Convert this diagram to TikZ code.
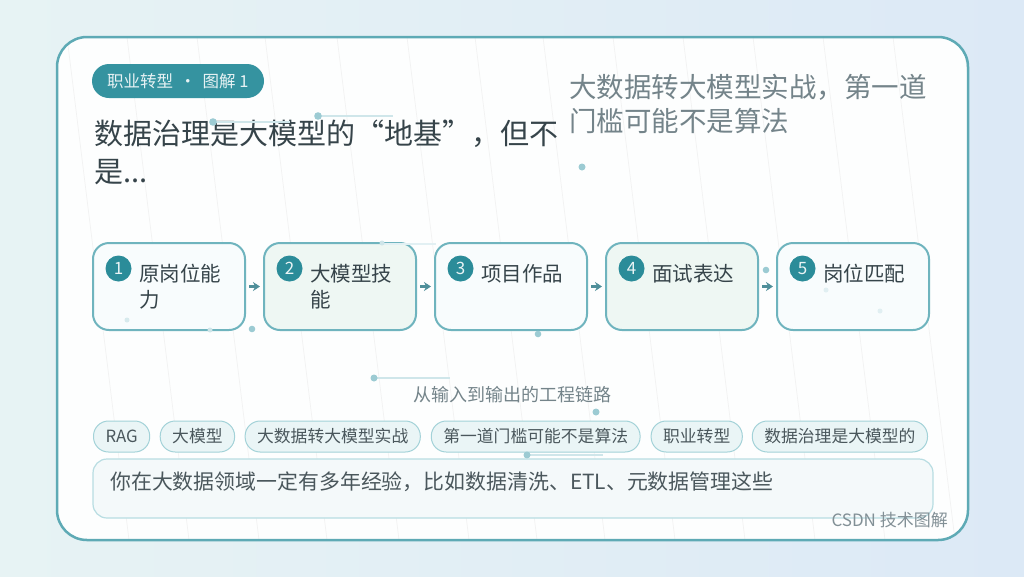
\documentclass[tikz,border=0pt]{standalone}
\usepackage{fontspec}
\setmainfont{Noto Sans CJK SC}
\usepackage{tikz}
\usetikzlibrary{arrows.meta}
\usetikzlibrary{calc}
\usetikzlibrary{positioning}
\usepackage{xcolor}
\definecolor{bgA}{HTML}{E7F3F4}
\definecolor{bgB}{HTML}{DCE9F6}
\definecolor{cardline}{HTML}{5EAAB5}
\definecolor{pillfill}{HTML}{3593A0}
\definecolor{numfill}{HTML}{2B8C99}
\definecolor{boxline}{HTML}{6FB4BE}
\definecolor{boxA}{HTML}{F8FCFD}
\definecolor{boxB}{HTML}{EEF7F3}
\definecolor{tagfill}{HTML}{EAF5F6}
\definecolor{tagline}{HTML}{A3D2D8}
\definecolor{notefill}{HTML}{F4F9FA}
\definecolor{noteline}{HTML}{B8DDE2}
\definecolor{dotc}{HTML}{9CCBD3}
\definecolor{decoc}{HTML}{CFE6EA}
\definecolor{darktxt}{HTML}{36444A}
\definecolor{greytxt}{HTML}{74848A}
\definecolor{arrowc}{HTML}{4F8F9A}

\begin{document}
\begin{tikzpicture}[x=1pt, y=-1pt]
        % ================= 样式 =================
        \tikzset{
            % 流程卡片
            flowbox/.style={rectangle, rounded corners=16pt, draw=boxline, line width=2pt, minimum width=152pt, minimum height=87pt, inner sep=0pt},
            % 编号圆点
            numdot/.style={circle, fill=numfill, minimum size=26pt, inner sep=0pt, text=white!90!numfill, font=\fontsize{17}{17}\selectfont},
            % 卡片文字
            flowtxt/.style={anchor=base west, inner sep=0pt, align=left, text=darktxt, font=\fontsize{20.5}{26}\selectfont},
            % 关键词标签
            tagpill/.style={rectangle, rounded corners=15pt, draw=tagline, line width=1pt, fill=tagfill, minimum height=31pt, inner xsep=12pt, inner ysep=0pt, text=darktxt!90, font=\fontsize{16.8}{17}\selectfont},
            % 流程箭头
            flowarrow/.style={-{Stealth[length=7pt, width=9pt]}, line width=2.2pt, arrowc, shorten <=3pt, shorten >=3pt},
            % 装饰
            decoline/.style={decoc, line width=1.2pt},
            hatchline/.style={black!5, line width=0.7pt}
        }

        % ================= 背景与卡片 =================
        \useasboundingbox (0,0) rectangle (1024,576);
        \shade[left color=bgA, right color=bgB] (0,0) rectangle (1024,576);
        \fill[white!70!boxA] [rounded corners=30pt] (57,37) rectangle (968,540);
        \begin{scope}
            \clip[rounded corners=30pt] (57,37) rectangle (968,540);
            \foreach \x in {67,127,197,265,337,407,475,543,613,683,753,823,893,963}
                \draw[hatchline] (\x,37) -- (\x+62,540);
        \end{scope}
        \draw[cardline, line width=2.5pt, rounded corners=30pt] (57,37) rectangle (968,540);

        % ================= 标题区 =================
        \node[rectangle, rounded corners=17pt, fill=pillfill, minimum width=172pt, minimum height=34pt, inner sep=0pt] (pill) at (178,81) {};
        \node[anchor=west, inner sep=0pt, text=white!88!pillfill, font=\fontsize{16.5}{17}\selectfont] (pilltxt) at (107,81) {职业转型 \,·\, 图解 1};

        % 多行节点的 base 取最后一行基线
        \node[anchor=base west, inner sep=0pt, align=left, text=darktxt, font=\fontsize{29}{38}\selectfont] (title) at (94,182) {数据治理是大模型的“地基”，但不\\是...};

        \node[anchor=base west, inner sep=0pt, align=left, text=greytxt, font=\fontsize{27.5}{34}\selectfont] (headline) at (569,131) {大数据转大模型实战，第一道\\门槛可能不是算法};

        % 装饰点线
        \coordinate (d1) at (213,122);
        \coordinate (d2) at (318,116);
        \coordinate (d3) at (582,167);
        \draw[decoline] (d1) -- ++(77,0);
        \draw[decoline] (d2) -- ++(75,0);
        \fill[dotc] (d1) circle (3.8);
        \fill[dotc] (d2) circle (3.8);
        \fill[dotc] (d3) circle (3.5);

        % ================= 五步流程 =================
        \foreach \i/\x/\fc/\dy/\txt in {1/169/boxA/65.5/{原岗位能\\力}, 2/340/boxB/65.5/{大模型技\\能}, 3/511/boxA/39.5/{项目作品}, 4/682/boxB/39.5/{面试表达}, 5/853/boxA/39.5/{岗位匹配}}{
            \node[flowbox, fill=\fc] (b\i) at (\x,286.5) {};
            \node[numdot] (n\i) at ($(b\i.north west)+(26.5,26.5)$) {\i};
            \node[flowtxt] (t\i) at ($(b\i.north west)+(47,\dy)$) {\txt};
        }
        \foreach \i [evaluate=\i as \j using int(\i+1)] in {1,...,4}
            \draw[flowarrow] (b\i.east) -- (b\j.west);

        % 流程周围的装饰点
        \draw[decoline, decoc!60] (382,244) -- (436,244);
        \fill[dotc!50] (382,243) circle (2.5);
        \fill[dotc!40] (127,320) circle (2.5);
        \fill[dotc!50] (210,330) circle (2.5);
        \fill[dotc] (252,329) circle (3.3);
        \fill[dotc] (538,334) circle (3.3);
        \fill[dotc] (766,270) circle (3.3);
        \fill[dotc!30] (826,290) circle (2.5);
        \fill[dotc!30] (880,311) circle (2.5);

        % ================= 副标题 =================
        \node[anchor=base west, inner sep=0pt, text=greytxt, font=\fontsize{18}{18}\selectfont] (sub) at (413,401) {从输入到输出的工程链路};
        \coordinate (d4) at (374,378);
        \coordinate (d5) at (596,412);
        \draw[decoline] (d4) -- ++(76,0);
        \fill[dotc] (d4) circle (3.5);
        \fill[dotc] (d5) circle (3.5);

        % ================= 关键词 =================
        \node[tagpill, anchor=west] (k1) at (93,436.5) {RAG};
        \node[tagpill, right=9.5pt of k1] (k2) {大模型};
        \node[tagpill, right=9.5pt of k2] (k3) {大数据转大模型实战};
        \node[tagpill, right=10pt of k3] (k4) {第一道门槛可能不是算法};
        \node[tagpill, right=10pt of k4] (k5) {职业转型};
        \node[tagpill, right=9pt of k5] (k6) {数据治理是大模型的};

        \coordinate (d6) at (527,455);
        \draw[decoline] (d6) -- ++(76,0);
        \fill[dotc] (d6) circle (3.5);

        % ================= 说明框 =================
        \node[rectangle, rounded corners=14pt, draw=noteline, line width=1.2pt, fill=notefill, minimum width=840pt, minimum height=59pt, inner sep=0pt] (note) at (513,488.5) {};
        \node[anchor=base west, inner sep=0pt, text=darktxt!90, font=\fontsize{20.9}{21}\selectfont] (notetxt) at (110,489.5) {你在大数据领域一定有多年经验，比如数据清洗、ETL、元数据管理这些};

        \node[anchor=base east, inner sep=0pt, text=greytxt!90, font=\fontsize{17}{17}\selectfont] (sign) at (948,526) {CSDN 技术图解};

    \end{tikzpicture}
\end{document}
